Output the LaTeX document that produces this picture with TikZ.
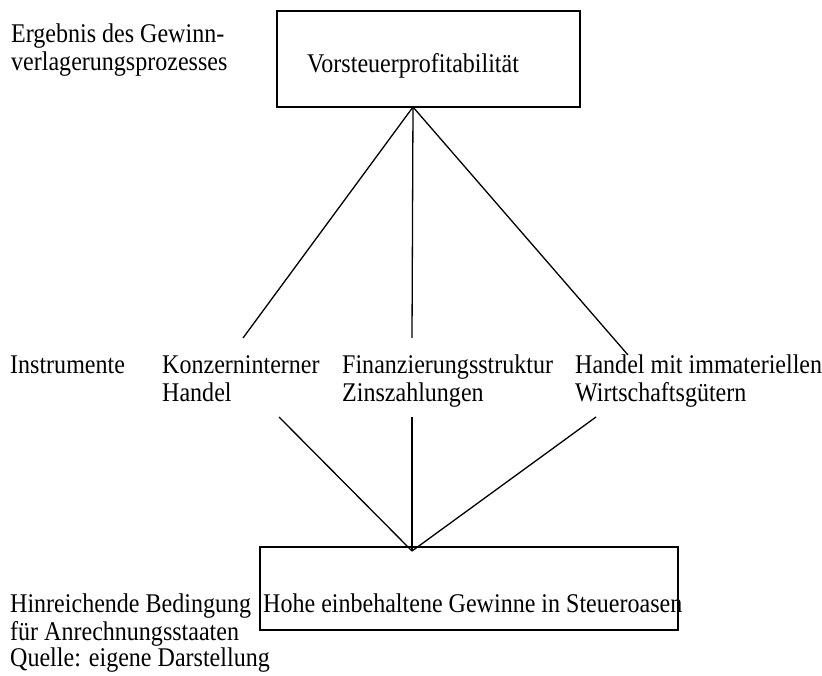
\documentclass[tikz,border=0pt]{standalone}
\usepackage{fontspec}
\setmainfont[FakeStretch=0.89]{Liberation Serif}

\begin{document}
\begin{tikzpicture}[x=1pt,y=-1pt]
    \tikzstyle{box}=[draw,line width=1.3pt,rectangle,inner sep=0pt]
    \tikzstyle{txt}=[inner sep=0pt,anchor=base west,align=left,font=\fontsize{27}{28}\selectfont]
    \tikzstyle{edge}=[draw,line width=1.3pt,-]

    \useasboundingbox (0,0) rectangle (822,676);

    % boxes
    \node[box, minimum width=303pt, minimum height=96pt] (vsp) at (428.5,59) {};
    \node[box, minimum width=418pt, minimum height=83pt] (oase) at (469,588.5) {};

    \node[txt] (vspt) at (307,73) {Vorsteuerprofitabilität};
    \node[txt] (oaset) at (263,612) {Hohe einbehaltene Gewinne in Steueroasen};

    % left column (multi-line nodes sit on their last baseline)
    \node[txt] (erg) at (11,71) {Ergebnis des Gewinn-\\verlagerungsprozesses};
    \node[txt] (instr) at (10,373) {Instrumente};
    \node[txt] (bed) at (10,640) {Hinreichende Bedingung\\für Anrechnungsstaaten};
    \node[txt] (quelle) at (10,666) {Quelle: eigene Darstellung};

    % instruments
    \node[txt] (kih) at (162,401) {Konzerninterner\\Handel};
    \node[txt] (fin) at (342,401) {Finanzierungsstruktur\\Zinszahlungen};
    \node[txt] (imm) at (575,401) {Handel mit immateriellen\\Wirtschaftsgütern};

    \coordinate (vsp-tip) at (413,107);
    \coordinate (oase-tip) at (412,551);
    \coordinate (kih-in) at (243,338);
    \coordinate (fin-in) at (412,338);
    \coordinate (imm-in) at (628,355);
    \coordinate (kih-out) at (279,417);
    \coordinate (fin-out) at (412,417);
    \coordinate (imm-out) at (596,417);

    \path[edge] (vsp-tip) -- (kih-in);
    \path[edge] (vsp-tip) -- (fin-in);
    \path[edge] (vsp-tip) -- (imm-in);
    \path[edge] (kih-out) -- (oase-tip);
    \path[edge] (fin-out) -- (oase-tip);
    \path[edge] (imm-out) -- (oase-tip);
\end{tikzpicture}
\end{document}
